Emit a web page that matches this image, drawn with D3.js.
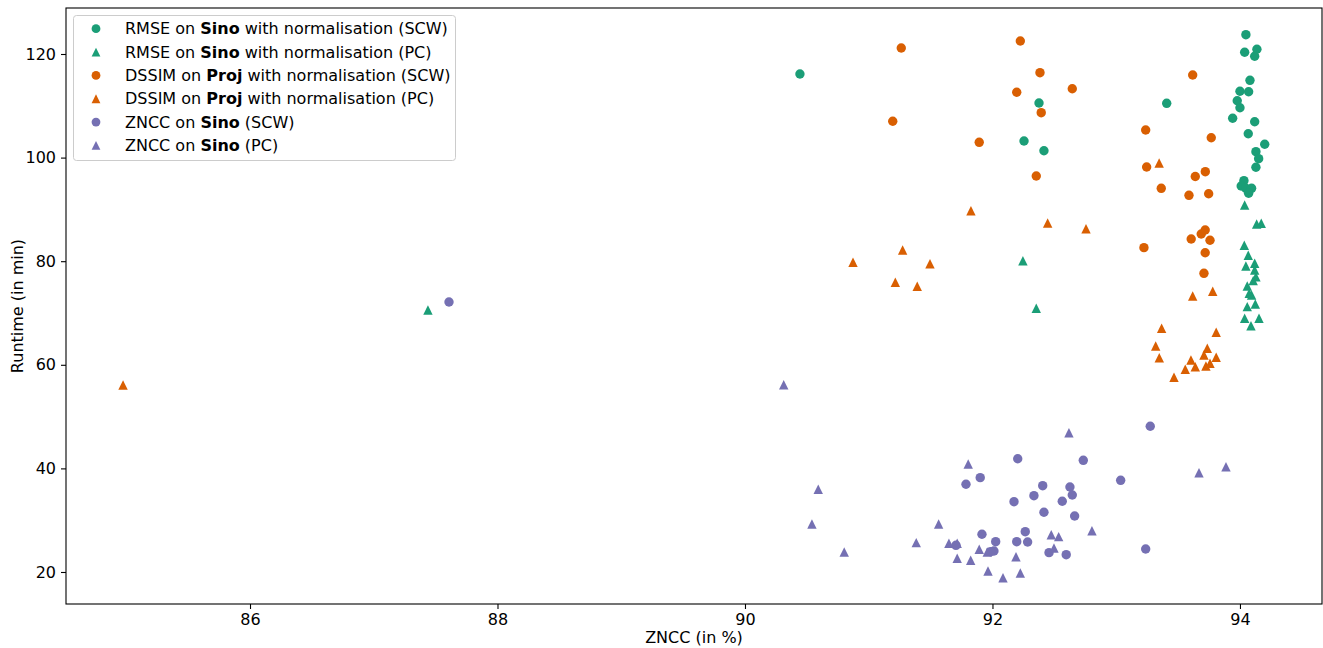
<!DOCTYPE html>
<html>
<head>
<meta charset="utf-8">
<script src="https://cdn.jsdelivr.net/npm/d3@7"></script>
<style>
  html, body { margin: 0; padding: 0; background: #fff; }
  svg { display: block; font-family: "DejaVu Sans", sans-serif; }
</style>
</head>
<body>
<svg id="chart" width="1323" height="648"></svg>
<script>
// ---- data ----
const rmseSinoSCW = [
  [90.444,116.14],[92.376,110.54],[92.255,103.20],[92.416,101.33],[93.408,110.48],
  [94.048,123.73],[94.038,120.33],[94.137,120.91],[94.119,119.56],[94.081,114.92],
  [94.000,112.80],[94.070,112.72],[93.978,110.98],[94.000,109.63],[93.941,107.59],
  [94.119,106.93],[94.067,104.61],[94.200,102.57],[94.129,101.14],[94.151,99.79],
  [94.129,98.13],[94.032,95.54],[94.010,94.52],[94.048,94.07],[94.094,94.07],[94.070,93.11]
];
const rmseSinoPC = [
  [87.438,70.58],[92.246,80.10],[92.354,70.91],[94.038,90.85],[94.135,87.18],
  [94.172,87.32],[94.035,83.07],[94.067,81.14],[94.048,79.07],[94.119,79.59],
  [94.119,78.30],[94.129,77.01],[94.107,76.24],[94.059,75.21],[94.075,73.80],
  [94.094,73.47],[94.059,71.22],[94.124,71.74],[94.038,68.98],[94.154,68.98],[94.089,67.55]
];
const dssimProjSCW = [
  [91.263,121.16],[92.225,122.51],[92.384,116.39],[92.196,112.61],[92.645,113.30],
  [92.394,108.67],[91.194,107.01],[91.893,102.95],[92.354,96.45],[93.618,115.95],
  [93.238,105.33],[93.768,103.84],[93.246,98.19],[93.639,96.35],[93.720,97.28],
  [93.364,94.07],[93.588,92.72],[93.747,93.03],[93.606,84.29],[93.687,85.25],
  [93.719,86.02],[93.758,84.04],[93.224,82.61],[93.719,81.64],[93.709,77.66]
];
const dssimProjPC = [
  [84.974,56.10],[90.873,79.79],[91.274,82.16],[91.215,75.93],[91.495,79.52],
  [91.392,75.15],[91.826,89.75],[92.446,87.37],[92.756,86.27],[93.347,98.96],
  [93.780,74.21],[93.618,73.28],[93.367,67.05],[93.808,66.27],[93.319,63.63],
  [93.348,61.37],[93.736,63.19],[93.709,61.89],[93.808,61.45],[93.604,60.93],
  [93.558,59.13],[93.639,59.63],[93.725,59.77],[93.758,60.29],[93.467,57.59]
];
const znccSinoSCW = [
  [87.608,72.12],[93.275,48.13],[93.036,37.70],[93.238,24.44],[92.204,41.87],
  [92.734,41.56],[91.901,38.21],[91.786,36.93],[92.406,36.66],[92.626,36.41],
  [92.645,34.86],[92.335,34.73],[92.174,33.57],[92.564,33.65],[92.416,31.53],
  [92.664,30.81],[91.915,27.28],[92.265,27.78],[92.026,25.85],[92.196,25.85],
  [92.284,25.79],[92.012,24.05],[91.985,23.92],[92.457,23.73],[92.596,23.34],[91.705,25.15]
];
const znccSinoPC = [
  [90.313,56.16],[90.592,35.97],[90.541,29.27],[90.802,23.86],[91.384,25.66],
  [91.565,29.27],[91.648,25.54],[91.715,25.54],[91.804,40.85],[92.618,46.89],
  [93.669,39.17],[93.887,40.33],[92.804,27.97],[92.475,27.20],[92.535,26.82],
  [91.893,24.38],[91.958,23.86],[92.190,22.95],[92.497,24.63],[91.715,22.65],
  [91.824,22.26],[91.964,20.19],[92.085,18.90],[92.225,19.81]
];
const xTicks = [86, 88, 90, 92, 94];
const yTicks = [20, 40, 60, 80, 100, 120];
const seriesNames = [
  ["RMSE on ", "Sino", " with normalisation (SCW)"],
  ["RMSE on ", "Sino", " with normalisation (PC)"],
  ["DSSIM on ", "Proj", " with normalisation (SCW)"],
  ["DSSIM on ", "Proj", " with normalisation (PC)"],
  ["ZNCC on ", "Sino", " (SCW)"],
  ["ZNCC on ", "Sino", " (PC)"]
];
const seriesData = [rmseSinoSCW, rmseSinoPC, dssimProjSCW, dssimProjPC, znccSinoSCW, znccSinoPC];
const seriesColors = ["#1b9e77", "#1b9e77", "#d95f02", "#d95f02", "#7570b3", "#7570b3"];
const seriesShapes = ["circle", "triangle", "circle", "triangle", "circle", "triangle"];

// ---- layout ----
const svg = d3.select("#chart");
const L = 66, T = 8, R = 1322, B = 604;
const x = d3.scaleLinear().domain([84.513, 94.663]).range([L, R]);
const y = d3.scaleLinear().domain([13.82, 128.88]).range([B, T]);

function markerPath(shape, s) {
  if (shape === "circle") {
    return d3.symbol().type(d3.symbolCircle).size(Math.PI * s * s)();
  }
  // matplotlib '^' : bbox-centred triangle
  return `M0,${-s}L${s},${s}L${-s},${s}Z`;
}

const plot = svg.append("g");
seriesData.forEach((data, i) => {
  const s = seriesShapes[i] === "circle" ? 4.7 : 4.7;
  plot.append("g").selectAll("path").data(data).join("path")
    .attr("d", markerPath(seriesShapes[i], s))
    .attr("transform", d => `translate(${x(d[0])},${y(d[1])})`)
    .attr("fill", seriesColors[i]);
});

// axes
const xAxis = d3.axisBottom(x).tickValues(xTicks).tickSize(5).tickPadding(5).tickFormat(d3.format("d"));
const yAxis = d3.axisLeft(y).tickValues(yTicks).tickSize(5).tickPadding(5).tickFormat(d3.format("d"));
const gx = svg.append("g").attr("transform", `translate(0,${B})`).call(xAxis);
const gy = svg.append("g").attr("transform", `translate(${L},0)`).call(yAxis);
[gx, gy].forEach(g => {
  g.select(".domain").remove();
  g.selectAll("text").attr("font-size", 16).attr("fill", "#000").attr("font-family", "DejaVu Sans");
  g.selectAll("line").attr("stroke", "#000").attr("stroke-width", 1.1);
});

// frame
svg.append("rect").attr("x", L).attr("y", T).attr("width", R - L).attr("height", B - T)
  .attr("fill", "none").attr("stroke", "#000").attr("stroke-width", 1.1);

// axis labels
svg.append("text").attr("x", (L + R) / 2).attr("y", 643).attr("text-anchor", "middle")
  .attr("font-size", 16).text("ZNCC (in %)");
svg.append("text").attr("transform", `translate(23,${(T + B) / 2}) rotate(-90)`)
  .attr("text-anchor", "middle").attr("font-size", 16).text("Runtime (in min)");

// legend
const lg = svg.append("g");
lg.append("rect").attr("x", 73.5).attr("y", 15.5).attr("width", 382).attr("height", 145)
  .attr("rx", 3).attr("fill", "#fff").attr("fill-opacity", 0.8)
  .attr("stroke", "#cccccc").attr("stroke-width", 1);
seriesNames.forEach((parts, i) => {
  const cy = 28.7 + i * 23.35;
  lg.append("path").attr("d", markerPath(seriesShapes[i], 4.4))
    .attr("transform", `translate(96,${cy})`).attr("fill", seriesColors[i]);
  const t = lg.append("text").attr("x", 125).attr("y", cy).attr("dy", "0.35em").attr("font-size", 16);
  t.append("tspan").text(parts[0]);
  t.append("tspan").attr("font-weight", "bold").text(parts[1]);
  t.append("tspan").text(parts[2]);
});
</script>
</body>
</html>
